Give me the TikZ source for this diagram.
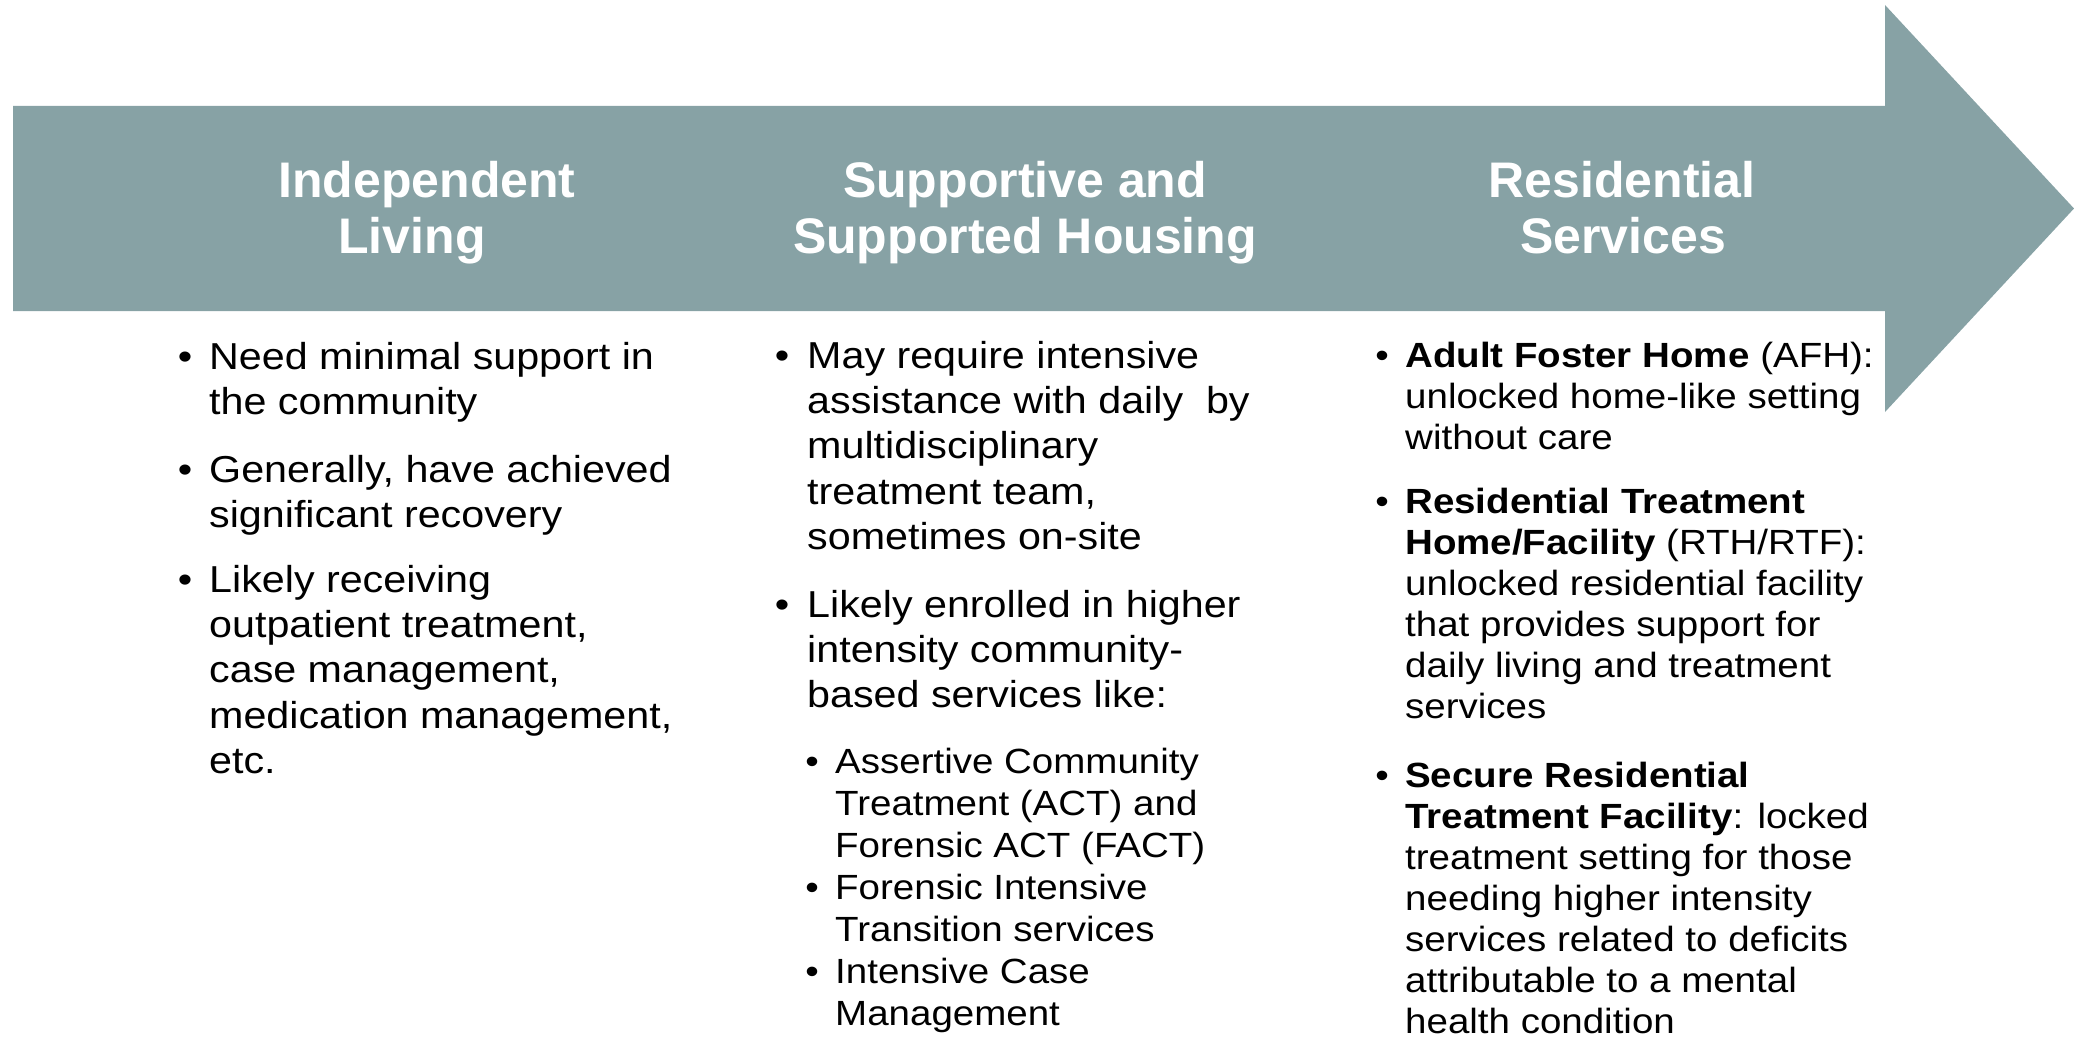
\documentclass[tikz,border=0pt]{standalone}
\usepackage{fontspec}
\setmainfont{Liberation Sans}
\newfontfamily\bodyfont{Liberation Sans}[FakeStretch=1.1]
\definecolor{arrowgray}{RGB}{135,162,165}
\newcommand\firstln{\rule{0pt}{40pt}}
\begin{document}
\begin{tikzpicture}[x=1pt,y=-1pt,
  hd/.style={font=\fontsize{50}{60}\selectfont\bfseries,text=white,inner sep=0pt,anchor=base},
  itemA/.style={font=\bodyfont\fontsize{37.5}{45.3}\selectfont,align=left,inner sep=0pt,anchor=north west},
  itemB/.style={font=\bodyfont\fontsize{35}{42}\selectfont,align=left,inner sep=0pt,anchor=north west},
  itemC/.style={font=\bodyfont\fontsize{35}{41}\selectfont,align=left,inner sep=0pt,anchor=north west},
  dotA/.style={font=\bodyfont\fontsize{37.5}{45.3}\selectfont,inner sep=0pt,anchor=base},
  dotB/.style={font=\bodyfont\fontsize{35}{42}\selectfont,inner sep=0pt,anchor=base}]
\useasboundingbox (0,0) rectangle (2074,1043);
% big arrow
\fill[arrowgray] (13,106) -- (1885,106) -- (1885,5) -- (2074,208.5) -- (1885,412) -- (1885,311) -- (13,311) -- cycle;
% headings
\node[hd] (h1a) at (427,197) {Independent};
\node[hd] (h1b) at (412,253) {Living};
\node[hd] (h2a) at (1025,197) {Supportive and};
\node[hd] (h2b) at (1025,253) {Supported Housing};
\node[hd] (h3a) at (1622,197) {Residential};
\node[hd] (h3b) at (1623,253) {Services};
% column 1
\node[dotA] (d11) at (185,369) {•};
\node[itemA] (t11) at (209,329) {\firstln Need minimal support in\\the community};
\node[dotA] (d12) at (185,482) {•};
\node[itemA] (t12) at (209,442) {\firstln Generally, have achieved\\significant recovery};
\node[dotA] (d13) at (185,592) {•};
\node[itemA] (t13) at (209,552) {\firstln Likely receiving\\outpatient treatment,\\case management,\\medication management,\\etc.};
% column 2
\node[dotA] (d21) at (782,368) {•};
\node[itemA] (t21) at (807,328) {\firstln May require intensive\\assistance with daily\ \ by\\multidisciplinary\\treatment team,\\sometimes on-site};
\node[dotA] (d22) at (782,617) {•};
\node[itemA] (t22) at (807,577) {\firstln Likely enrolled in higher\\intensity community-\\based services like:};
\node[dotB] (s21) at (812,773) {•};
\node[itemB] (u21) at (835,733) {\firstln Assertive Community\\Treatment (ACT) and\\Forensic ACT (FACT)};
\node[dotB] (s22) at (812,899) {•};
\node[itemB] (u22) at (835,859) {\firstln Forensic Intensive\\Transition services};
\node[dotB] (s23) at (812,983) {•};
\node[itemB] (u23) at (835,943) {\firstln Intensive Case\\Management};
% column 3
\node[dotB] (d31) at (1382,367) {•};
\node[itemC] (t31) at (1405,327) {\firstln\textbf{Adult Foster Home} (AFH):\\unlocked home-like setting\\without care};
\node[dotB] (d32) at (1382,513) {•};
\node[itemC] (t32) at (1405,473) {\firstln\textbf{Residential Treatment}\\\textbf{Home/Facility} (RTH/RTF):\\unlocked residential facility\\that provides support for\\daily living and treatment\\services};
\node[dotB] (d33) at (1382,787) {•};
\node[itemC] (t33) at (1405,747) {\firstln\textbf{Secure Residential}\\\textbf{Treatment Facility}: locked\\treatment setting for those\\needing higher intensity\\services related to deficits\\attributable to a mental\\health condition};
\end{tikzpicture}
\end{document}
